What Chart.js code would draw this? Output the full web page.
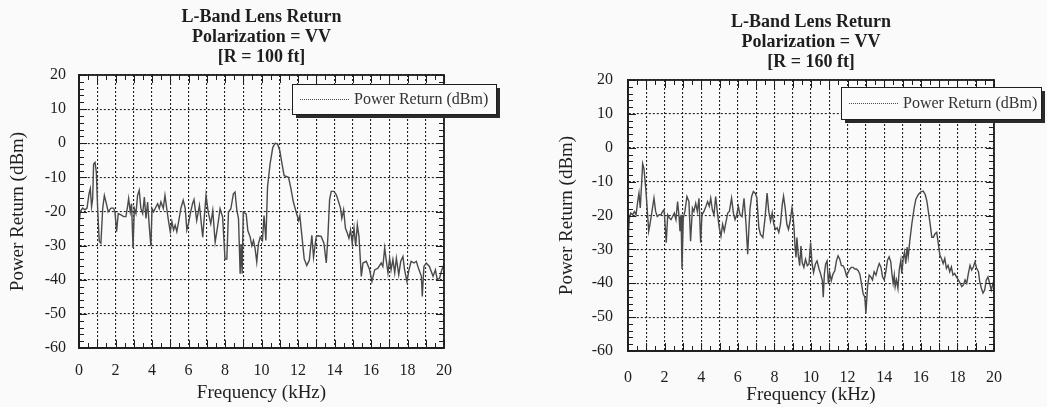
<!DOCTYPE html>
<html>
<head>
<meta charset="utf-8">
<script src="https://cdn.jsdelivr.net/npm/chart.js@4.4.0/dist/chart.umd.min.js"></script>
<style>
  html, body { margin: 0; padding: 0; background: #fafafa; }
  #wrap { position: relative; width: 1047px; height: 407px; overflow: hidden; }
  .panel { position: absolute; top: 0; }
  canvas { display: block; }
</style>
</head>
<body>
<div id="wrap">
  <div class="panel" style="left:0"><canvas id="c100" width="523" height="407"></canvas></div>
  <div class="panel" style="left:523px"><canvas id="c160" width="524" height="407"></canvas></div>
</div>
<script>
const FONT = "'Liberation Serif', 'Times New Roman', serif";
const INK = '#1e1e1e';

// tick labels
const xTickLabels = [0, 2, 4, 6, 8, 10, 12, 14, 16, 18, 20];
const yTickLabels = [-60, -50, -40, -30, -20, -10, 0, 10, 20];

const seriesLabel = 'Power Return (dBm)';
const title100 = ['L-Band Lens Return', 'Polarization = VV', '[R = 100 ft]'];
const title160 = ['L-Band Lens Return', 'Polarization = VV', '[R = 160 ft]'];

// R = 100 ft spectrum (kHz, dBm)
const freq100 = [0.00,0.02,0.07,0.20,0.33,0.44,0.55,0.62,0.69,0.75,0.80,0.88,0.95,1.02,1.11,1.20,1.30,1.39,1.50,1.60,
  1.75,1.90,1.97,2.06,2.15,2.30,2.45,2.57,2.66,2.72,2.81,2.88,2.96,3.03,3.12,3.21,3.30,3.39,3.49,3.58,
  3.67,3.76,3.85,3.94,4.00,4.09,4.22,4.31,4.40,4.49,4.62,4.71,4.82,4.91,5.00,5.09,5.18,5.27,5.36,5.49,
  5.58,5.71,5.82,5.91,6.00,6.10,6.22,6.30,6.45,6.60,6.78,6.96,7.08,7.22,7.33,7.46,7.59,7.73,7.87,8.00,
  8.10,8.19,8.32,8.46,8.55,8.65,8.74,8.83,8.88,8.94,9.00,9.16,9.25,9.38,9.47,9.56,9.65,9.74,9.83,9.93,
  10.05,10.14,10.24,10.33,10.47,10.62,10.75,10.88,11.00,11.11,11.24,11.48,11.60,11.75,11.90,12.03,12.10,12.20,12.34,12.48,
  12.62,12.76,12.85,13.00,13.10,13.27,13.42,13.55,13.64,13.73,13.82,13.97,14.10,14.22,14.33,14.40,14.50,14.60,14.70,14.79,
  14.88,14.97,15.07,15.16,15.25,15.34,15.47,15.56,15.74,15.92,16.05,16.20,16.38,16.56,16.65,16.75,16.83,16.93,17.02,17.10,
  17.20,17.30,17.39,17.52,17.63,17.75,17.84,17.97,18.08,18.20,18.36,18.48,18.63,18.76,18.81,18.90,19.03,19.20,19.40,19.53,
  19.63,19.76,19.88,20.00];
const power100 = [-27,-23,-20,-19,-19.5,-19,-14.8,-13.3,-18.6,-16.2,-6.1,-5.6,-8.5,-19,-28.8,-29.3,-19,-15.3,-17.7,-20.1,
  -19,-19,-20.1,-25.9,-20.6,-21,-21.5,-21.5,-18.6,-16.2,-20.1,-17.7,-30.7,-19.1,-20.6,-15.3,-13.8,-19.1,-20.6,-15.8,
  -22,-17.2,-24.4,-30.2,-19.1,-20.1,-18.6,-17.7,-19.1,-17.2,-19.1,-15.3,-19.6,-23,-25.9,-23,-25.4,-24,-25.9,-22,
  -19.1,-16.7,-19.1,-25.4,-23.5,-20.6,-17.7,-16.5,-22.6,-18.2,-27.5,-15.3,-20.2,-23.6,-19.7,-29,-24.6,-19.2,-21.6,-33.9,
  -33.9,-20.2,-19.2,-14.8,-14.3,-19.7,-22.1,-38.2,-29.5,-38.2,-20.2,-20.7,-25.6,-27.5,-30,-28.5,-30.9,-34.8,-29.5,-27.5,
  -28.5,-21.2,-28.5,-12.9,-6,-1.2,0,-0.2,-2.1,-5.6,-9.5,-10,-12.9,-17.3,-20.2,-22.6,-21.2,-26.5,-33.9,-35.8,
  -34.3,-27,-33.4,-27.3,-27.1,-27.3,-29.3,-35.1,-27.3,-16.6,-14.1,-14.1,-15.1,-17.1,-19,-22,-19.5,-24.9,-26.3,-27.8,
  -25.4,-29.3,-24.9,-30.2,-23.9,-27.3,-39,-35.1,-34.6,-37,-40.5,-37.1,-36.6,-35.1,-36.1,-30.7,-34.1,-38,-33.7,-37.1,
  -34.1,-38,-33.7,-38.5,-34.6,-33.2,-37.1,-40.5,-37.1,-34.6,-35.1,-34.6,-37.1,-39,-44.9,-36.1,-35.1,-36.1,-39,-37.1,
  -40,-39.5,-37.1,-35.6];

// R = 160 ft spectrum (kHz, dBm)
const freq160 = [0.00,0.03,0.07,0.15,0.25,0.35,0.44,0.53,0.60,0.67,0.75,0.80,0.87,0.97,1.06,1.13,1.20,1.31,1.42,1.51,
  1.60,1.71,1.80,1.89,1.97,2.04,2.09,2.17,2.26,2.35,2.44,2.53,2.62,2.71,2.79,2.84,2.90,2.95,3.02,3.11,
  3.22,3.33,3.42,3.52,3.60,3.70,3.79,3.88,3.97,4.04,4.15,4.26,4.35,4.44,4.52,4.61,4.70,4.79,4.90,4.99,
  5.08,5.17,5.26,5.36,5.45,5.54,5.66,5.76,5.85,5.94,6.03,6.12,6.23,6.34,6.45,6.54,6.60,6.67,6.76,6.85,
  6.95,7.04,7.15,7.24,7.37,7.49,7.60,7.69,7.79,7.88,7.97,8.06,8.15,8.24,8.33,8.43,8.50,8.59,8.68,8.77,
  8.86,8.96,9.00,9.07,9.12,9.18,9.23,9.30,9.38,9.45,9.52,9.61,9.70,9.80,9.89,9.98,10.05,10.14,10.24,10.33,
  10.44,10.53,10.62,10.67,10.73,10.80,10.88,10.95,11.02,11.11,11.20,11.30,11.39,11.48,11.57,11.66,11.75,11.84,11.94,12.03,
  12.12,12.21,12.30,12.39,12.48,12.58,12.67,12.76,12.85,12.94,13.00,13.09,13.18,13.27,13.36,13.45,13.55,13.64,13.73,13.82,
  13.91,14.00,14.09,14.18,14.27,14.36,14.42,14.49,14.55,14.60,14.67,14.75,14.82,14.91,14.96,15.04,15.11,15.18,15.25,15.31,
  15.40,15.51,15.64,15.73,15.87,16.00,16.13,16.24,16.33,16.42,16.51,16.60,16.69,16.78,16.87,16.96,17.04,17.13,17.22,17.31,
  17.40,17.49,17.58,17.67,17.76,17.85,17.95,18.05,18.15,18.24,18.33,18.42,18.51,18.60,18.69,18.78,18.87,18.96,19.05,19.15,
  19.22,19.31,19.40,19.49,19.58,19.67,19.76,19.85,19.95,20.00];
const power160 = [-32,-25,-20.7,-19.3,-19.8,-18.8,-19.8,-15.9,-13.4,-17.8,-10,-4.7,-6.1,-12,-18.8,-24.6,-22.6,-18.8,-14.9,-18.8,
  -20.3,-19.8,-19.8,-18.8,-18.3,-23.7,-28,-19.8,-20.7,-21.2,-20.3,-19.3,-21.2,-15.9,-20.3,-24.6,-19.8,-35.8,-20.7,-18.8,
  -14.4,-15.9,-27.6,-17.8,-18.8,-16.4,-18.8,-14.9,-28,-19.8,-18.8,-17.3,-15.9,-17.3,-14.9,-18.3,-19.8,-14.4,-19.8,-23.7,
  -26.1,-22.6,-24.6,-21.7,-19.3,-18.8,-14.9,-19.3,-21.2,-19.8,-17.3,-19.8,-20.3,-14.9,-22.6,-31.4,-24.6,-17.8,-14.3,-12.9,
  -13.4,-14.8,-23.6,-25.6,-26.5,-20.7,-13.4,-18.7,-21.7,-19.2,-22.6,-24.1,-23.6,-25,-22.6,-16.8,-14.3,-17.8,-22.6,-24.1,
  -21.7,-17.8,-19.2,-23.6,-28.5,-32.4,-26.5,-31.4,-34.8,-29,-33.9,-35.3,-32.9,-34.8,-34.3,-28,-33.9,-36.8,-34.3,-33.4,
  -35.8,-37.3,-39.2,-44.1,-37.3,-34.3,-33.4,-40.2,-36.8,-39.2,-37.3,-36.3,-33.4,-31.9,-32.9,-34.8,-34.8,-35.8,-37.8,-36.8,
  -35.8,-35.3,-35.3,-35.8,-35.8,-36.3,-37.3,-40.2,-43.1,-44.1,-48.9,-41,-37.6,-38.1,-39,-36.6,-37.6,-35.6,-34.2,-35.2,
  -38.1,-39,-36.6,-33.2,-32.2,-33.7,-37.1,-40,-37.6,-41,-39,-41.5,-36.1,-33.2,-37.1,-32.7,-30.8,-34.2,-29.3,-32.2,
  -27.4,-22.5,-17.7,-15.2,-13.8,-13,-12.8,-13.8,-15.7,-19.1,-22.5,-26.4,-26.4,-25.4,-25,-28.4,-31.7,-32.7,-34.2,-32.7,
  -35.6,-34.7,-36.6,-35.2,-37.6,-37.1,-38.1,-39,-40,-41,-40.5,-39,-40,-37.1,-34.7,-36.1,-35.2,-33.7,-35.6,-36.6,
  -39.5,-41.5,-42.9,-42,-39,-38.1,-40,-42,-40,-40.5];

// inward minor ticks + closed frame
const frameTicks = {
  id: 'frameTicks',
  afterDraw(chart) {
    const { ctx, chartArea: a, scales: { x, y } } = chart;
    ctx.save();
    ctx.strokeStyle = INK;
    ctx.lineWidth = 1;
    ctx.beginPath();
    for (let v = y.min; v <= y.max; v += 2) {
      const py = Math.round(y.getPixelForValue(v)) + 0.5;
      const len = v % 10 === 0 ? 8 : 5;
      ctx.moveTo(a.left, py); ctx.lineTo(a.left + len, py);
      ctx.moveTo(a.right, py); ctx.lineTo(a.right - len, py);
    }
    for (let v = x.min; v <= x.max; v += 0.5) {
      const px = Math.round(x.getPixelForValue(v)) + 0.5;
      const len = v % 1 === 0 ? 8 : 5;
      ctx.moveTo(px, a.top); ctx.lineTo(px, a.top + len);
      ctx.moveTo(px, a.bottom); ctx.lineTo(px, a.bottom - len);
    }
    ctx.stroke();
    ctx.lineWidth = 1.8;
    ctx.strokeRect(a.left, a.top, a.right - a.left, a.bottom - a.top);
    ctx.restore();
  }
};

// boxed legend with drop shadow, like the original plot
const boxLegend = {
  id: 'boxLegend',
  afterDraw(chart, args, opts) {
    const { ctx, chartArea: a } = chart;
    const ds = chart.data.datasets[0];
    const bx = a.left + opts.dx, by = a.top + opts.dy;
    ctx.save();
    ctx.fillStyle = '#2a2a2a';
    ctx.fillRect(bx + 4, by + 4, opts.w, opts.h);
    ctx.fillStyle = '#fbfbfb';
    ctx.fillRect(bx, by, opts.w, opts.h);
    ctx.strokeStyle = INK;
    ctx.lineWidth = 1;
    ctx.strokeRect(bx + 0.5, by + 0.5, opts.w, opts.h);
    const my = Math.round(by + opts.h / 2) + 0.5;
    ctx.strokeStyle = ds.borderColor;
    ctx.setLineDash([1, 1]);
    ctx.beginPath();
    ctx.moveTo(bx + 8, my); ctx.lineTo(bx + 58, my);
    ctx.stroke();
    ctx.setLineDash([]);
    ctx.fillStyle = '#333';
    ctx.font = '16px ' + FONT;
    ctx.textBaseline = 'middle';
    ctx.fillText(ds.label, bx + 62, my);
    ctx.restore();
  }
};

function makeChart(id, titleLines, freq, power, L) {
  const canvas = document.getElementById(id);
  const W = canvas.width, H = canvas.height;
  const titleH = 3 * 18 * 1.12;
  return new Chart(canvas, {
    type: 'line',
    data: {
      datasets: [{
        label: seriesLabel,
        data: freq.map((f, i) => ({ x: f, y: power[i] })),
        borderColor: '#4a4a4a',
        borderWidth: 1.4,
        pointRadius: 0,
        tension: 0,
        fill: false
      }]
    },
    options: {
      responsive: false,
      animation: false,
      layout: { padding: { left: 0, right: W - L.right, top: 0, bottom: 0 } },
      plugins: {
        legend: { display: false },
        tooltip: { enabled: false },
        title: {
          display: true,
          text: titleLines,
          fullSize: false,
          color: INK,
          font: { family: FONT, size: 18, weight: 'bold', lineHeight: 1.12 },
          padding: { top: L.titleTop, bottom: L.top - L.titleTop - titleH }
        },
        boxLegend: L.legend
      },
      scales: {
        x: {
          type: 'linear',
          min: 0, max: 20,
          afterFit(s) { s.height = H - L.bottom; },
          grid: { color: '#222', lineWidth: 1.1, drawTicks: false },
          border: { display: true, color: INK, width: 1.8, dash: [2, 2] },
          ticks: {
            stepSize: 1, autoSkip: false, maxRotation: 0,
            padding: L.xTickPad, color: INK,
            font: { family: FONT, size: 16 },
            callback: v => xTickLabels.includes(v) ? String(v) : ''
          },
          title: {
            display: true, text: 'Frequency (kHz)', color: INK,
            font: { family: FONT, size: 19 },
            padding: { top: 0, bottom: L.xTitlePad }
          }
        },
        y: {
          min: -60, max: 20,
          afterFit(s) { s.width = L.left; },
          grid: { color: '#222', lineWidth: 1.1, drawTicks: false },
          border: { display: true, color: INK, width: 1.8, dash: [2, 2] },
          ticks: {
            stepSize: 10, padding: L.yTickPad, color: INK,
            font: { family: FONT, size: 16 },
            callback: v => yTickLabels.includes(v) ? String(v) : ''
          },
          title: {
            display: true, text: 'Power Return (dBm)', color: INK,
            font: { family: FONT, size: 19 },
            padding: { top: L.yTitlePad, bottom: 0 }
          }
        }
      }
    },
    plugins: [frameTicks, boxLegend]
  });
}

makeChart('c100', title100, freq100, power100, {
  left: 79, right: 444, top: 75, bottom: 348, titleTop: 7,
  xTickPad: 13, yTickPad: 13, xTitlePad: 3, yTitlePad: 7,
  legend: { dx: 213, dy: 9, w: 204, h: 30 }
});
makeChart('c160', title160, freq160, power160, {
  left: 105, right: 471, top: 80, bottom: 351, titleTop: 12,
  xTickPad: 17, yTickPad: 15, xTitlePad: 1, yTitlePad: 33,
  legend: { dx: 213, dy: 7, w: 200, h: 32 }
});
</script>
</body>
</html>
